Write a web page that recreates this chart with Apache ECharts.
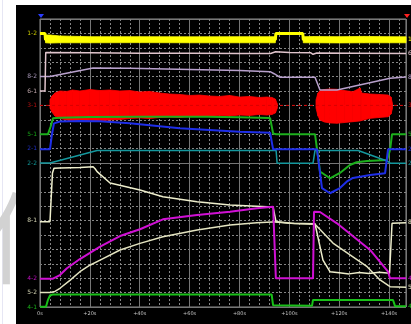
<!DOCTYPE html>
<html>
<head>
<meta charset="utf-8">
<script src="https://cdn.jsdelivr.net/npm/echarts@6/dist/echarts.min.js"></script>
<style>
  html, body { margin: 0; padding: 0; background: #fff; }
  #chart { width: 411px; height: 324px; }
</style>
</head>
<body>
<div id="chart"></div>
<script>
// x: seconds from trigger, y: grid divisions (0 = bottom line, 20 = top line)
const tMax = 146.8;
const chNames = ['1-2', '8-2', '6-1', '3-1', '5-1', '2-1', '2-2', '8-1', '4-2', '5-2', '4-1'];
const chLevels = [19, 16, 15, 14, 12, 11, 10, 6, 2, 1, 0];
const chLabelColors = ['#c8c800', '#a898b8', '#c0a8ac', '#b01010', '#16a016', '#2030c0', '#109898', '#d0d0b0', '#c010c0', '#d0d0b0', '#18b018'];

const ch12 = [[0, 19], [2, 19], [2.2, 18.56], [94.4, 18.56], [94.6, 19.0], [105.4, 19.0], [105.6, 18.56], [146.8, 18.56]];
// thick noisy band of channel 1-2 (two bursts)
const yelT1 = [2.2, 4, 8, 20, 40, 60, 80, 94.4];
const yelTop1 = [18.89, 18.89, 18.82, 18.77, 18.77, 18.76, 18.77, 18.77];
const yelBot1 = [18.35, 18.33, 18.35, 18.35, 18.36, 18.35, 18.35, 18.35];
const yelT2 = [105.6, 110, 120, 130, 140, 146.8];
const yelTop2 = [18.77, 18.78, 18.77, 18.79, 18.77, 18.76];
const yelBot2 = [18.35, 18.35, 18.34, 18.35, 18.35, 18.35];
const ch61 = [[0, 15], [2, 15], [2.3, 17.68], [20, 17.66], [40, 17.63], [60, 17.62], [80, 17.6], [92.5, 17.6], [94.5, 17.72], [100, 17.68],
  [108.5, 17.66], [109.5, 17.55], [111, 17.64], [125, 17.63], [146.8, 17.6]];
const ch82 = [[0, 16], [4, 16], [21.3, 16.6], [36, 16.58], [60, 16.5], [80, 16.42], [92.3, 16.34], [93.9, 16.2], [96.3, 15.95],
  [110.3, 15.95], [112.3, 15.07], [119.1, 15.07], [140.4, 15.88], [146.8, 15.97]];

const redBase = [[0, 14], [146.8, 14]];
const redT1 = [4.0, 4.8, 6.0, 8.0, 10.8, 13, 16, 20, 24, 28, 32, 36, 40, 44, 48, 52, 56, 60, 64, 68, 72, 76, 80, 84, 88, 91, 93, 94.4, 95.2];
const redTop1 = [14.38, 14.65, 14.86, 15.00, 14.97, 15.07, 15.00, 15.10, 15.03, 15.07, 15.00, 15.03, 14.93, 14.97, 14.86, 14.79, 14.76,
  14.69, 14.72, 14.65, 14.62, 14.69, 14.58, 14.62, 14.55, 14.58, 14.55, 14.44, 14.10];
const redBot1 = [13.82, 13.54, 13.26, 13.09, 12.99, 12.92, 12.95, 12.88, 12.92, 12.99, 13.02, 13.09, 13.13, 13.09, 13.16, 13.19, 13.16,
  13.23, 13.26, 13.23, 13.30, 13.26, 13.33, 13.30, 13.37, 13.33, 13.37, 13.47, 13.82];
const redT2 = [110.7, 111.5, 112.3, 114, 116.3, 119.1, 122, 125.5, 128.4, 129, 132.4, 136, 139.6, 140.8, 141.4];
const redTop2 = [14.38, 14.86, 15.02, 15.10, 15.14, 15.12, 15.03, 14.95, 15.21, 14.86, 14.79, 14.76, 14.72, 14.58, 14.10];
const redBot2 = [13.82, 13.26, 12.99, 12.85, 12.78, 12.76, 12.81, 12.87, 12.92, 12.95, 13.10, 13.16, 13.21, 13.40, 13.82];

const ch51 = [[0, 12.0], [3.2, 12.0], [4.2, 12.5], [5.2, 13.1], [8, 13.15], [20, 13.2], [40, 13.22], [67, 13.22], [80, 13.17], [92.3, 13.12],
  [93.5, 12.05], [94.7, 12.0], [110.3, 12.0], [112.3, 9.41], [116.3, 8.94], [120.3, 9.31], [124.3, 9.86], [127, 10.05], [131.2, 10.14],
  [139.2, 10.21], [140.4, 10.9], [141.2, 12.0], [146.8, 12.0]];
const ch21 = [[0, 10.95], [4, 10.95], [4.8, 12.0], [5.6, 12.75], [8, 12.88], [16, 12.92], [24, 12.9], [36, 12.76], [56, 12.41], [80, 12.17],
  [92.3, 12.1], [93.5, 10.95], [111.1, 10.95], [113.1, 8.26], [116.3, 7.9], [120.3, 8.26], [123, 8.7], [125.5, 8.96], [132.4, 9.17],
  [138.4, 9.28], [139.6, 10.95], [146.8, 10.95]];
const ch22 = [[0, 10.0], [4, 10.0], [22.9, 10.87], [94.7, 10.87], [95.1, 9.98], [109.5, 9.98], [110.3, 10.87], [127.6, 10.87],
  [139.2, 10.14], [140.6, 9.98], [146.8, 9.98]];
const ch81 = [[0, 5.92], [4, 5.92], [5, 9.3], [5.6, 9.64], [8, 9.65], [16, 9.68], [21.3, 9.74], [22.1, 9.6], [22.9, 9.4], [28.1, 8.61],
  [40.1, 8.13], [49.3, 7.66], [63, 7.31], [76.2, 7.08], [91.1, 6.97], [93.5, 6.94], [94.7, 5.9], [100, 5.82], [110.3, 5.78],
  [112.3, 4.19], [113.5, 3.26], [116.3, 2.45], [120, 2.38], [124, 2.3], [128, 2.4], [132, 2.33], [136, 2.42], [140.2, 2.35],
  [141.2, 5.81], [146.8, 5.85]];
const ch42 = [[0, 1.97], [5.2, 1.97], [6, 2.0], [8, 2.22], [10.8, 2.69], [16, 3.33], [24.1, 4.19], [32.1, 4.93], [40.1, 5.4], [49.3, 6.09],
  [63, 6.39], [76.2, 6.62], [87, 6.85], [93.5, 6.97], [94.3, 6.97], [94.6, 1.99], [109.5, 1.99], [109.9, 6.62], [110.3, 6.67],
  [112.3, 6.6], [119.1, 5.81], [132.4, 3.96], [139.6, 2.45], [140.4, 1.99], [146.8, 1.99]];
const ch52 = [[0, 1.0], [4, 1.0], [6, 1.08], [8, 1.3], [12, 1.85], [16, 2.45], [20, 2.9], [24.1, 3.26], [32.1, 3.96], [40.1, 4.42],
  [49.3, 4.88], [63, 5.35], [76.2, 5.69], [87, 5.85], [95.1, 5.92], [102, 5.8], [110.3, 5.75], [117.5, 4.44], [131.2, 2.8],
  [136.4, 1.88], [140.4, 1.41], [146.8, 1.37]];
const ch41 = [[0, 0.02], [2.4, 0.02], [3.2, 0.5], [4, 0.8], [5, 0.87], [92.9, 0.87], [93.5, 0.12], [109.1, 0.08], [109.5, 0.49],
  [141.6, 0.49], [142.4, 0.06], [146.8, 0.06]];

const chart = echarts.init(document.getElementById('chart'), null, { renderer: 'canvas' });

const font = 'DejaVu Sans';

function trace(name, data, color, width) {
  return {
    name: name,
    type: 'line',
    data: data,
    symbol: 'none',
    silent: true,
    animation: false,
    lineStyle: { color: color, width: width },
    endLabel: { show: true, formatter: name, color: color, fontSize: 6, fontFamily: font, distance: 2 }
  };
}

// filled band between a top and a bottom edge
function band(ts, tops, bots, color) {
  return {
    type: 'custom',
    silent: true,
    animation: false,
    data: ts.map((t, i) => [t, tops[i], bots[i]]),
    renderItem: function (params, api) {
      const i = params.dataIndex;
      if (i >= ts.length - 1) return null;
      const pts = [
        api.coord([ts[i], tops[i]]), api.coord([ts[i + 1], tops[i + 1]]),
        api.coord([ts[i + 1], bots[i + 1]]), api.coord([ts[i], bots[i]])
      ];
      return { type: 'polygon', shape: { points: pts }, style: { fill: color, stroke: color, lineWidth: 0.8 } };
    }
  };
}

const rich = {};
chNames.forEach((n, i) => { rich['c' + i] = { color: chLabelColors[i], fontSize: 6, fontFamily: font }; });

chart.setOption({
  backgroundColor: '#ffffff',
  animation: false,
  grid: {
    left: 40, top: 19, width: 366, height: 288,
    show: true, borderColor: '#8c8c8c', borderWidth: 1, backgroundColor: 'transparent',
    outerBoundsMode: 'none'
  },
  graphic: [
    { type: 'line', z: -30, shape: { x1: 2.5, y1: 0, x2: 2.5, y2: 324 }, style: { stroke: '#e6e6f4', lineWidth: 1 } },
    { type: 'text', z: -25, x: -14, y: 188, style: { text: '件', fontSize: 100, fontFamily: 'Noto Sans CJK SC', fill: '#d2d2d2' } },
    { type: 'rect', z: -20, shape: { x: 16, y: 5, width: 395, height: 319 }, style: { fill: '#000000' } },
    { type: 'polygon', z: 10, shape: { points: [[38, 14], [44, 14], [41, 18]] }, style: { fill: '#2a3cff' } },
    { type: 'polygon', z: 10, shape: { points: [[404, 14], [410, 14], [407, 18]] }, style: { fill: '#ff2020' } }
  ],
  xAxis: [
    {
      type: 'value', min: 0, max: tMax, interval: 4,
      axisLine: { show: false }, axisTick: { show: false },
      axisLabel: {
        color: '#c4c4c4', fontSize: 5, fontFamily: font, margin: 4,
        formatter: v => (Math.abs(v % 20) < 1e-6 ? (v === 0 ? '0s' : '+' + v + 's') : '')
      },
      splitLine: { show: true, lineStyle: { color: '#858585', width: 1, type: [2, 2] } }
    },
    {
      type: 'value', min: 0, max: tMax, interval: 20, position: 'bottom',
      axisLine: { show: false }, axisTick: { show: false }, axisLabel: { show: false },
      splitLine: { show: true, lineStyle: { color: '#767676', width: 1, type: 'solid' } }
    }
  ],
  yAxis: [
    {
      type: 'value', min: 0, max: 20, interval: 1,
      axisLine: { show: false }, axisTick: { show: false },
      axisLabel: {
        margin: 3, fontSize: 6, fontFamily: font, rich: rich,
        formatter: v => {
          const i = chLevels.indexOf(Math.round(v));
          return i < 0 ? '' : '{c' + i + '|' + chNames[i] + '}';
        }
      },
      splitLine: { show: true, lineStyle: { color: '#858585', width: 1, type: [2, 2] } }
    },
    {
      type: 'value', min: 0, max: 20, interval: 10, position: 'left',
      axisLine: { show: false }, axisTick: { show: false }, axisLabel: { show: false },
      splitLine: { show: true, lineStyle: { color: '#767676', width: 1, type: 'solid' } }
    }
  ],
  series: [
    Object.assign(trace('3-1', redBase, '#d80000', 1), { lineStyle: { color: '#d80000', width: 1, type: [3, 3] } }),
    trace('5-1', ch51, '#1cb01c', 2),
    band(redT1, redTop1, redBot1, '#ff0000'),
    band(redT2, redTop2, redBot2, '#ff0000'),
    trace('2-2', ch22, '#14989e', 1.5),
    trace('2-1', ch21, '#1e2ee8', 2),
    trace('8-2', ch82, '#b8a0cc', 1.5),
    trace('6-1', ch61, '#e0c4cc', 1.5),
    band(yelT1, yelTop1, yelBot1, '#ffff00'),
    band(yelT2, yelTop2, yelBot2, '#ffff00'),
    trace('1-2', ch12, '#ffff00', 3),
    trace('8-1', ch81, '#eeeecc', 1.5),
    trace('5-2', ch52, '#e4e4c0', 1.5),
    trace('4-2', ch42, '#d010d4', 2),
    trace('4-1', ch41, '#18c018', 2)
  ]
});
</script>
</body>
</html>
